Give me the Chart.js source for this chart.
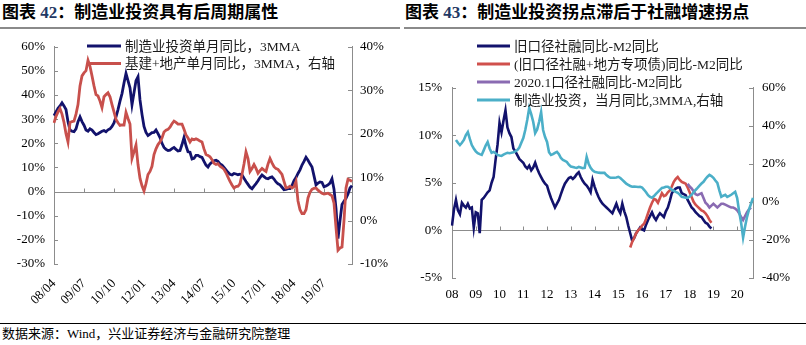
<!DOCTYPE html>
<html>
<head>
<meta charset="utf-8">
<script src="https://cdn.jsdelivr.net/npm/chart.js@4.4.1/dist/chart.umd.min.js"></script>
<style>
  html, body { margin: 0; padding: 0; background: #fff; }
  body { width: 806px; height: 345px; position: relative; overflow: hidden;
         font-family: 'Liberation Serif', 'Noto Sans CJK SC', serif; }
  .title { position: absolute; top: 3px; font-family: 'Liberation Serif', 'Noto Sans CJK SC', serif;
           font-weight: bold; font-size: 17px; line-height: 20px; color: #000; white-space: nowrap; }
  .title .num { color: #1f3864; }
  .rule { position: absolute; top: 27px; height: 2px; background: #8a8a8a; }
  .foot-rule { position: absolute; top: 323px; left: 0; width: 806px; height: 1px; background: #000; }
  .source { position: absolute; top: 326px; left: 2px; font-size: 13px; line-height: 16px; color: #000; white-space: nowrap; }
  canvas { position: absolute; }
</style>
</head>
<body>
<div class="title" style="left:2px">图表 <span class="num">42</span>：制造业投资具有后周期属性</div>
<div class="title" style="left:405px">图表 <span class="num">43</span>：制造业投资拐点滞后于社融增速拐点</div>
<div class="rule" style="left:0;width:400px"></div>
<div class="rule" style="left:404px;width:402px"></div>
<canvas id="cycle" width="400" height="290" style="left:0;top:30px"></canvas>
<canvas id="credit" width="403" height="290" style="left:403px;top:30px"></canvas>
<div class="foot-rule"></div>
<div class="source">数据来源：Wind，兴业证券经济与金融研究院整理</div>

<script>
// ---------- 图表42：制造业投资 vs 基建+地产 (monthly from 2008/04) ----------
const cycleTickLabels = ['08/04','09/07','10/10','12/01','13/04','14/07','15/10','17/01','18/04','19/07'];

const mfgInvest3mma = [
  31.5,33,34.5,35.5,36.8,35.5,34,29,25.5,25,
  24.8,26,29,31,29,27.5,25.5,25,26,25.5,
  24.5,23.6,24,24.5,25,25.3,24.8,25.6,26,27,
  28.5,31,34,37.5,40.6,45,49,46,43,36,
  41,46,47.6,38,32,27,24.5,23.2,23.8,24.4,
  24.5,25.5,24,22.4,20,18.3,17.5,17,17.2,17.8,
  18.3,17.5,16.8,17,19.5,22.4,19,16.5,16.3,13.5,
  13.8,15,15,14.5,14.2,12.5,11,10.2,11.5,12.2,
  12.8,13,12.5,11.5,11,10,9,8,7.2,6.9,
  7.5,7.3,7,7.2,6.9,5.5,4.2,3,1.8,1.2,
  2.3,3.3,4.5,5.8,6.9,6.2,5.5,5.3,5.8,6.1,
  5.2,4,3.2,2.8,1.8,0.8,0.9,1.2,1.2,2.5,
  4.5,5.8,7.5,9,11,12.5,14.2,13,11.5,10.2,
  6.5,2.8,3.5,4,3.8,2,2.3,2.8,3.5,5.3,
  1,-6.9,-19.5,-12,-5.3,-4,-2.8,-1,1.5,2.5
];

const infraRealty3mma = [
  22.5,24,25,25.8,24.5,22.6,20,18.1,22.6,22.8,
  22.9,24.5,26.7,31,33.3,34,34.5,36.9,35.5,33.3,
  31,29,28.7,27.5,26,28.5,29,29.4,28.5,26.7,
  25,23.3,22.5,21.9,22,22,24.9,23.5,22.2,14.3,
  15.8,17.4,12.9,9.7,8,6.8,8.5,10.6,11.3,12.5,
  15.2,16.5,17.5,18.1,19,20.4,20.8,21,21.5,22.3,
  22.9,22.6,22.2,22.2,22.2,21,19.7,19,18.1,18.8,
  18.6,18.8,18.6,18.3,18.1,16.5,15.2,15,14.7,14,
  13.2,12.9,13.1,12.5,12.2,11.8,11,10,9,8.2,
  7.5,7.8,7.9,8.5,10.6,13,15.8,14.3,11.3,12,
  12.9,12,10.9,11.5,12,11.6,11.3,13,14.3,13.3,
  12.4,12,11.8,11.2,10.6,9,7.5,7.6,7.9,7.5,
  7.8,9,4.5,2.5,1.6,1.6,2.5,5.2,6.5,7.2,
  7.4,7.5,7,6.6,6.3,6.1,6.2,6.3,6,5.7,
  4,-1.6,-6.8,-6.3,-6.1,0,7.5,9.5,9.3,9
];

// ---------- 图表43：社融-M2 vs 制造业投资 (monthly from 2008/01) ----------
const creditYearLabels = ['08','09','10','11','12','13','14','15','16','17','18','19','20'];
const creditMonthCount = 153;

const tsfOldGap = [
  0.5,2.2,3.2,2.1,1.7,2.9,2.6,2.4,2.8,2.3,
  2.4,0.3,1.9,1.8,-0.3,3.2,3.4,3.7,4,4.2,
  5,5.6,7.4,9,11.3,10.3,11.5,12.6,10.8,10.2,
  9.8,8.6,8.3,7.9,7.5,7.3,7.1,6.7,6.5,6.8,
  6.3,6.6,7.1,6.5,6,5.6,5.2,4.9,4.7,4,
  3.4,2.9,2.4,2.8,3.2,3.8,4.4,4.9,5.2,5.5,
  5.6,5.4,5.6,5.9,6.1,5.6,5.2,4.9,4.7,4.4,
  4,5.3,4.6,4,3.5,3.1,2.8,2.6,2.4,2.2,
  2,1.8,2.3,2.8,2.2,1.8,2.8,2,1.4,0.5,
  -0.3,-1.1,-0.8,-0.3,0,0.3,0.1,0,0.6,1.1,
  1.5,1.9,1.4,1.1,1.5,1.8,1.6,1.4,2,2.4,
  3.1,3.9,4.2,4.4,4.5,4.5,3.9,3.8,3.7,3.2,
  2.8,2.4,2.2,1.9,1.7,1.5,1.4,1.1,0.8,0.7,
  0.4,0.2
];
const tsfOldGapStart = '08/01';

const tsfBondGap = [
  -1.8,-1.2,-0.8,-0.3,0,0.2,0.5,0.7,1.2,1.8,
  2.4,2.9,3.3,3.2,2.9,3.4,3.9,3.6,3.7,4,
  4.2,4.6,5.1,5.4,5.6,5.3,5.1,5,4.9,4.5,
  4,3.5,3,2.7,2.5,2.3,2.1,2,1.8,1.5,
  1.1,0.8
];
const tsfBondGapStart = '15/07';

const tsfNewGap = [
  4.9,4.6,4.4,4.1,3.8,3.7,3.8,3.9,3.4,2.9,
  2.7,2.4,2.6,2.8,2.6,2.4,2.6,2.8,2.8,2.7,
  2.6,2.5,2.4,2.4,2.3,2.1,1.8,1.4,1.1,1.5,
  1.9,2.2,2.4
];
const tsfNewGapStart = '17/12';

const mfgInvestRight = [
  32.5,31,29.8,31,32.5,35,36.6,33,29.8,28,
  26.5,25.5,25,24.6,27,29.5,31.4,28,25.7,26.2,
  25.5,24.6,24.3,24.1,24.8,25.3,25.7,25.5,25.7,26,
  26.5,27.2,28.5,31,33.5,37.7,43,49.2,46,42,
  36.1,38,42,47.1,37.7,34,31.4,26,24.6,25,
  25.7,26.2,25,23,22,21.5,20.9,19.5,18.5,18.3,
  18,17.8,18.3,18,17.6,17.8,23.6,20,17.8,16.5,
  15.7,15.5,15.3,15.2,15.2,15.2,14,13.2,12.6,12.6,
  12.6,12.8,13.1,12.5,11.5,10.5,9.5,8.9,8.3,7.9,
  8,7.9,7.8,7.9,7.5,6.3,5,3.5,2.6,2.1,
  3,4.2,5.2,6.3,7.3,7.5,7.9,7.9,7.2,6.3,
  5.8,5.2,4.7,3.8,2.6,2.4,2.2,2.1,2.8,3.7,
  5,6.2,7.3,8.5,9.6,10.5,12,13.2,14.1,13.5,
  12.6,11.2,9.9,6,2.6,3.2,3.7,2.6,3.1,3.7,
  4.5,5.2,2,-5,-11,-18.8,-13,-7.9,-4,-1,
  2.1
];
const mfgInvestRightStart = '08/03';

// ---------- helpers ----------
function monthLabels(year, month, count) {
  const out = [];
  for (let i = 0; i < count; i++) {
    out.push(String(year % 100).padStart(2, '0') + '/' + String(month).padStart(2, '0'));
    month++;
    if (month > 12) { month = 1; year++; }
  }
  return out;
}
function alignTo(labels, start, values) {
  const lead = labels.indexOf(start);
  return new Array(lead).fill(null).concat(values);
}

const cycleMonths = monthLabels(2008, 4, mfgInvest3mma.length);
const creditMonths = monthLabels(2008, 1, creditMonthCount);

const FONT = "'Liberation Serif', 'Noto Sans CJK SC', serif";
const AXIS = '#8c8c8c';
Chart.defaults.color = '#000';
Chart.defaults.font.family = FONT;

// Zero line with upward ticks, and y-axis ticks pointing into the plot
const axisMarks = {
  id: 'axisMarks',
  beforeDatasetsDraw(chart, args, o) {
    const { ctx, chartArea: a, scales } = chart;
    const x = scales.x, yl = scales.y, yr = scales.y1;
    const len = o.len;
    ctx.save();
    ctx.strokeStyle = AXIS;
    ctx.lineWidth = 1;
    ctx.beginPath();
    const y0 = Math.round(yl.getPixelForValue(0)) + 0.5;
    ctx.moveTo(a.left, y0); ctx.lineTo(a.right, y0);
    x.ticks.forEach((t, k) => {
      if (!t.label) return;
      const px = Math.round(x.getPixelForTick(k)) + 0.5;
      ctx.moveTo(px, y0); ctx.lineTo(px, y0 - len);
    });
    yl.ticks.forEach(t => {
      const py = Math.round(yl.getPixelForValue(t.value)) + 0.5;
      ctx.moveTo(a.left, py); ctx.lineTo(a.left + len, py);
    });
    yr.ticks.forEach(t => {
      const py = Math.round(yr.getPixelForValue(t.value)) + 0.5;
      ctx.moveTo(a.right, py); ctx.lineTo(a.right - len, py);
    });
    ctx.stroke();
    ctx.restore();
  }
};

// Stacked one-per-row line legend
const lineLegend = {
  id: 'lineLegend',
  afterDatasetsDraw(chart, args, o) {
    const { ctx } = chart;
    ctx.save();
    ctx.font = o.fontSize + 'px ' + FONT;
    ctx.textBaseline = 'middle';
    ctx.fillStyle = '#1a1a1a';
    chart.data.datasets.forEach((ds, k) => {
      const y = o.y + k * o.rowGap;
      ctx.strokeStyle = ds.borderColor;
      ctx.lineWidth = o.lineWidth;
      ctx.beginPath();
      ctx.moveTo(o.x, y); ctx.lineTo(o.x + o.sample, y);
      ctx.stroke();
      ctx.fillText(ds.label, o.x + o.sample + o.gap, y + 1);
    });
    ctx.restore();
  }
};

function yAxis(position, min, max, step, width, pad) {
  return {
    position, min, max,
    ticks: { stepSize: step, padding: pad, font: { size: 13 }, callback: v => v + '%' },
    grid: { display: false, drawTicks: false },
    border: { display: true, color: AXIS, width: 1 },
    afterFit: s => { s.width = width; }
  };
}

// ---------- 图表42 ----------
new Chart(document.getElementById('cycle'), {
  type: 'line',
  data: {
    labels: cycleMonths,
    datasets: [
      { label: '制造业投资单月同比，3MMA', data: mfgInvest3mma, borderColor: '#12126c', yAxisID: 'y', order: 1 },
      { label: '基建+地产单月同比，3MMA，右轴', data: infraRealty3mma, borderColor: '#c8504c', yAxisID: 'y1', order: 0 }
    ]
  },
  options: {
    responsive: false, animation: false,
    layout: { padding: { top: 13 } },
    elements: { point: { radius: 0 }, line: { borderWidth: 2.8, tension: 0 } },
    plugins: {
      legend: { display: false }, tooltip: { enabled: false },
      axisMarks: { len: 4 },
      lineLegend: { x: 87, y: 16, rowGap: 17.5, sample: 34, gap: 4, lineWidth: 3, fontSize: 13.5 }
    },
    scales: {
      x: {
        grid: { display: false, drawTicks: false },
        border: { display: false },
        ticks: {
          autoSkip: false, minRotation: 45, maxRotation: 45, padding: 12, font: { size: 13 },
          callback(v) { const l = this.getLabelForValue(v); return cycleTickLabels.includes(l) ? l : ''; }
        },
        afterFit: s => { s.height = 56; }
      },
      y: yAxis('left', -30, 60, 10, 54, 9),
      y1: yAxis('right', -10, 40, 10, 48, 8)
    }
  },
  plugins: [axisMarks, lineLegend]
});

// ---------- 图表43 ----------
new Chart(document.getElementById('credit'), {
  type: 'line',
  data: {
    labels: creditMonths,
    datasets: [
      { label: '旧口径社融同比-M2同比', data: alignTo(creditMonths, tsfOldGapStart, tsfOldGap), borderColor: '#12126c', yAxisID: 'y', order: 3 },
      { label: '(旧口径社融+地方专项债)同比-M2同比', data: alignTo(creditMonths, tsfBondGapStart, tsfBondGap), borderColor: '#d0504c', yAxisID: 'y', order: 2 },
      { label: '2020.1口径社融同比-M2同比', data: alignTo(creditMonths, tsfNewGapStart, tsfNewGap), borderColor: '#8a6bb2', yAxisID: 'y', order: 1 },
      { label: '制造业投资，当月同比,3MMA,右轴', data: alignTo(creditMonths, mfgInvestRightStart, mfgInvestRight), borderColor: '#4bafc8', yAxisID: 'y1', order: 0 }
    ]
  },
  options: {
    responsive: false, animation: false,
    layout: { padding: { top: 57.5 } },
    elements: { point: { radius: 0 }, line: { borderWidth: 2.6, tension: 0 } },
    plugins: {
      legend: { display: false }, tooltip: { enabled: false },
      axisMarks: { len: 4 },
      lineLegend: { x: 74, y: 16, rowGap: 18, sample: 33, gap: 4, lineWidth: 3, fontSize: 13.5 }
    },
    scales: {
      x: {
        grid: { display: false, drawTicks: false },
        border: { display: false },
        ticks: {
          autoSkip: false, maxRotation: 0, minRotation: 0, padding: 9, font: { size: 13 },
          callback(v) {
            const l = this.getLabelForValue(v);
            return l.endsWith('/01') && creditYearLabels.includes(l.slice(0, 2)) ? l.slice(0, 2) : '';
          }
        },
        afterFit: s => { s.height = 42; }
      },
      y: yAxis('left', -5, 15, 5, 49, 10),
      y1: yAxis('right', -40, 60, 20, 53, 9)
    }
  },
  plugins: [axisMarks, lineLegend]
});
</script>
</body>
</html>
